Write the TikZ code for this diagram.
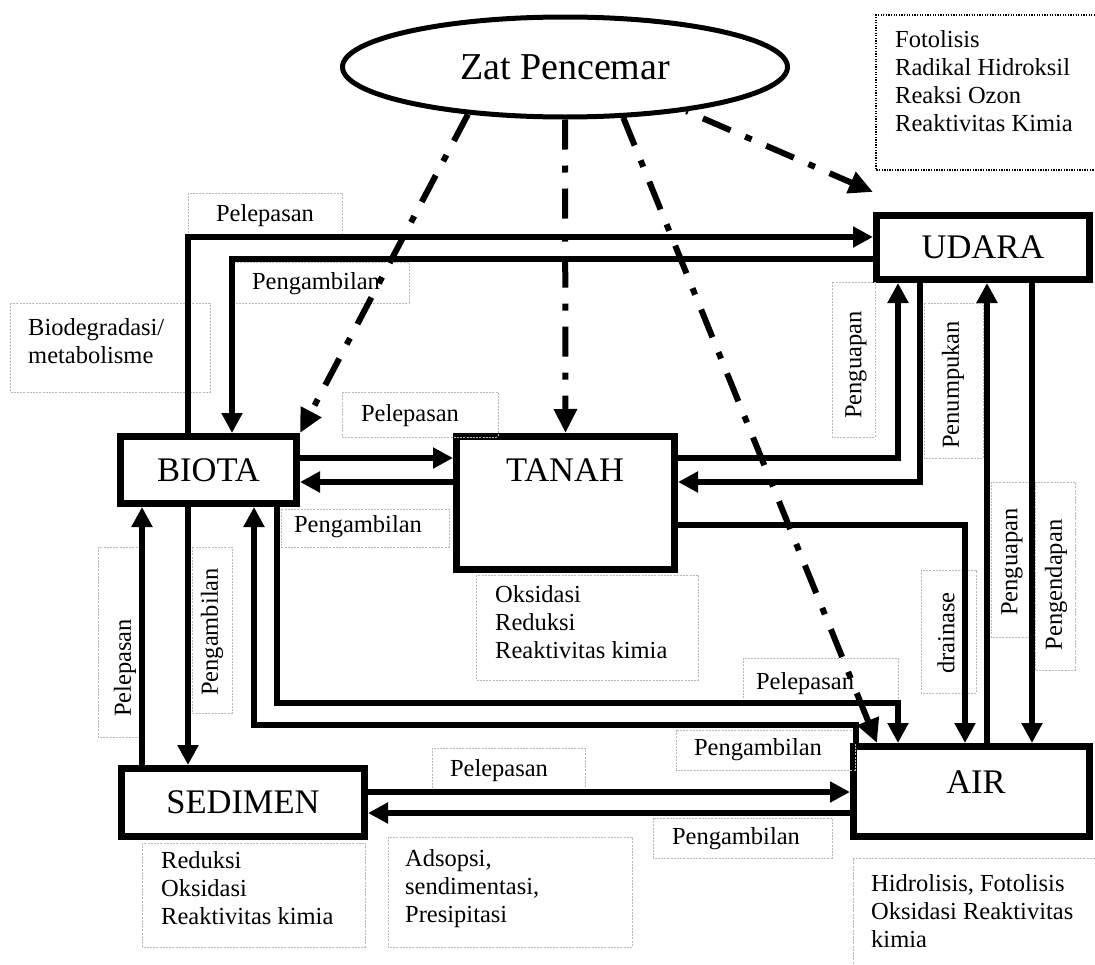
\documentclass[tikz,border=0pt]{standalone}
\usepackage{fontspec}
\setmainfont{Liberation Serif}
\usetikzlibrary{arrows.meta,shapes.geometric}
\begin{document}
\begin{tikzpicture}[x=1pt,y=-1pt,
  bigbox/.style={draw, line width=7pt, inner sep=0pt, font=\fontsize{34.5}{40}\selectfont},
  bigtext/.style={inner sep=0pt, font=\fontsize{34.5}{40}\selectfont},
  arr/.style={line width=5.8pt, -{Triangle[length=20pt,width=20pt]}},
  dd/.style={line width=6pt, dash pattern=on 30pt off 16pt on 7pt off 16pt, -{Triangle[length=24pt,width=22pt]}},
  frame/.style={draw=gray!55, line width=0.6pt, dash pattern=on 2pt off 1.2pt},
  dotframe/.style={draw=black, line width=1.3pt, dash pattern=on 1.3pt off 1.3pt},
  lab/.style={font=\fontsize{24.5}{28}\selectfont, inner sep=0pt},
  notes/.style={lab, align=left, anchor=west},
]
\fill[white] (0,0) rectangle (1095,964);
\useasboundingbox (0,0) rectangle (1095,964);

% ---------- main nodes ----------
\node[draw, ellipse, line width=5pt, inner sep=0pt, minimum width=445pt, minimum height=100pt,
      font=\fontsize{38}{44}\selectfont] (zat) at (565,67) {Zat Pencemar};
\node[bigbox, minimum width=176pt, minimum height=67pt] (biota) at (208.5,470) {BIOTA};
\node[bigbox, minimum width=218pt, minimum height=133pt] (tanah) at (565.5,503) {};
\node[bigtext] (tanahlabel) at (565,470) {TANAH};
\node[bigbox, minimum width=213pt, minimum height=64pt] (udara) at (983,247.5) {UDARA};
\node[bigbox, minimum width=236pt, minimum height=90pt] (air) at (971.5,791.5) {};
\node[bigtext] (airlabel) at (976,782) {AIR};
\node[bigbox, minimum width=243pt, minimum height=68pt] (sedimen) at (243,802.5) {SEDIMEN};

% ---------- helper levels ----------
\coordinate (x142) at (142,0);
\coordinate (x188) at (188,0);
\coordinate (x232) at (232,0);
\coordinate (x254) at (254,0);
\coordinate (x277) at (277,0);
\coordinate (x856) at (856,0);
\coordinate (x877) at (877,0);
\coordinate (x898) at (898,0);
\coordinate (x920) at (920,0);
\coordinate (x965) at (965,0);
\coordinate (x987) at (987,0);
\coordinate (x1032) at (1032,0);
\coordinate (y237) at (0,237);
\coordinate (y259) at (0,259);
\coordinate (y458) at (0,458);
\coordinate (y482) at (0,482);
\coordinate (y525) at (0,525);
\coordinate (y703) at (0,703);
\coordinate (y725) at (0,725);
\coordinate (y792) at (0,792);
\coordinate (y813) at (0,813);

% ---------- label frames ----------
\draw[frame] (188,193) rectangle (342,236);
\draw[frame] (232,262) rectangle (409,303);
\draw[frame] (10,303) rectangle (210,392);
\draw[frame] (342,392) rectangle (498,437);
\draw[frame] (281,509) rectangle (449,547);
\draw[frame] (832,282) rectangle (875,437);
\draw[frame] (924,303) rectangle (983,458);
\draw[frame] (921,570) rectangle (976,693);
\draw[frame] (991,482) rectangle (1030,637);
\draw[frame] (1035,482) rectangle (1075,670);
\draw[frame] (743,658) rectangle (898,700);
\draw[frame] (676,730) rectangle (855,770);
\draw[frame] (476,575) rectangle (698,680);
\draw[frame] (98,547) rectangle (139,737);
\draw[frame] (192,547) rectangle (232,713);
\draw[frame] (432,748) rectangle (585,792);
\draw[frame] (653,818) rectangle (832,858);
\draw[frame] (142,843) rectangle (365,947);
\draw[frame] (388,837) rectangle (632,947);
\draw[frame] (1095,858) -- (853,858) -- (853,964);
\draw[dotframe] (1095,15) -- (876,15) -- (876,170) -- (1095,170);

% ---------- connectors ----------
\draw[arr] (biota.north -| x188) |- (udara.west |- y237);
\draw[arr] (udara.west |- y259) -| (biota.north -| x232);
\draw[arr] (biota.east |- y458) -- (tanah.west |- y458);
\draw[arr] (tanah.west |- y482) -- (biota.east |- y482);
\draw[arr] (tanah.east |- y458) -| (udara.south -| x898);
\draw[arr] (udara.south -| x920) |- (tanah.east |- y482);
\draw[arr] (tanah.east |- y525) -| (air.north -| x965);
\draw[arr] (air.north -| x987) -- (udara.south -| x987);
\draw[arr] (udara.south -| x1032) -- (air.north -| x1032);
\draw[arr] (biota.south -| x277) |- (x898 |- y703) -- (air.north -| x898);
\draw[arr] (air.north -| x856) |- (x254 |- y725) -- (biota.south -| x254);
\draw[arr] (sedimen.north -| x142) -- (biota.south -| x142);
\draw[arr] (biota.south -| x188) -- (sedimen.north -| x188);
\draw[arr] (sedimen.east |- y792) -- (air.west |- y792);
\draw[arr] (air.west |- y813) -- (sedimen.east |- y813);

% ---------- dash-dot connectors ----------
\draw[dd] (zat.206) -- (biota.north east);
\draw[dd] (zat.south) -- (tanah.north);
\draw[dd] (zat.-41) -- (air.north -| x877);
\draw[dd, dash phase=-18pt] (zat.-20) -- ([yshift=20pt]udara.north west);

% ---------- labels ----------
\node[lab] (l1) at (265,216) {Pelepasan};
\node[lab] (l2) at (316,284) {Pengambilan};
\node[notes] (l3) at (28,341) {Biodegradasi/\\metabolisme};
\node[lab] (l4) at (410,416) {Pelepasan};
\node[lab] (l5) at (358,527) {Pengambilan};
\node[lab, rotate=90] (l6) at (856,365) {Penguapan};
\node[lab, rotate=90] (l7) at (953,385) {Penumpukan};
\node[lab, rotate=90] (l8) at (946,633) {drainase};
\node[lab, rotate=90] (l9) at (1012,562) {Penguapan};
\node[lab, rotate=90] (l10) at (1056,585) {Pengendapan};
\node[lab] (l11) at (805,684) {Pelepasan};
\node[lab] (l12) at (758,750) {Pengambilan};
\node[notes] (l13) at (495,622) {Oksidasi\\Reduksi\\Reaktivitas kimia};
\node[lab, rotate=90] (l14) at (125,668) {Pelepasan};
\node[lab, rotate=90] (l15) at (212,632) {Pengambilan};
\node[lab] (l16) at (499,771) {Pelepasan};
\node[lab] (l17) at (736,839) {Pengambilan};
\node[notes] (l18) at (161,888) {Reduksi\\Oksidasi\\Reaktivitas kimia};
\node[notes] (l19) at (405,889) {Adsopsi,\\sendimentasi,\\Presipitasi};
\node[notes] (l20) at (871,911) {Hidrolisis, Fotolisis\\Oksidasi Reaktivitas\\kimia};
\node[notes] (l21) at (895,81) {Fotolisis\\Radikal Hidroksil\\Reaksi Ozon\\Reaktivitas Kimia};
\end{tikzpicture}
\end{document}
